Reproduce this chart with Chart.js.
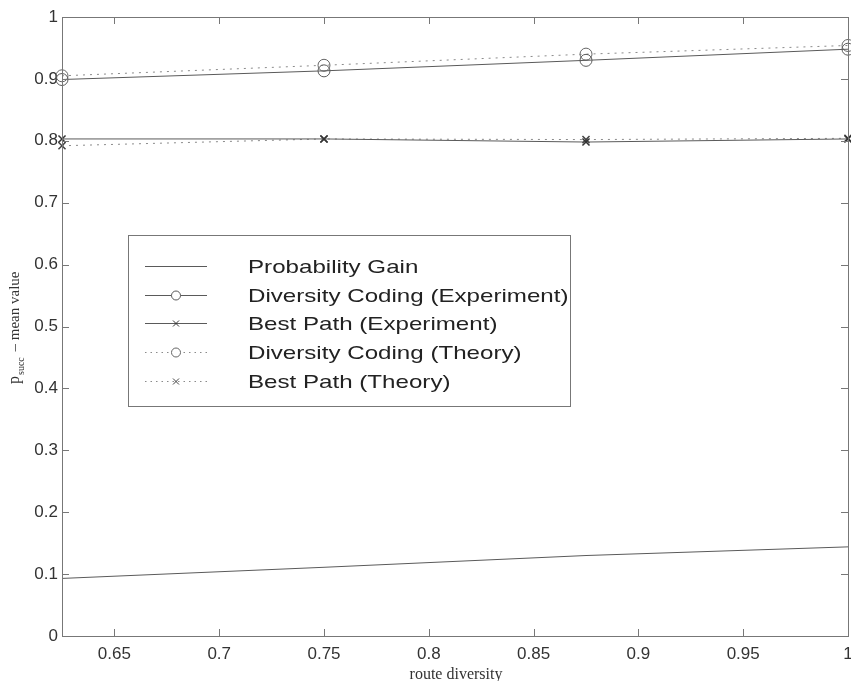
<!DOCTYPE html>
<html>
<head>
<meta charset="utf-8">
<script src="https://cdn.jsdelivr.net/npm/chart.js@4.4.1/dist/chart.umd.min.js"></script>
<style>
  html, body { margin: 0; padding: 0; background: #fff; }
  #wrap { width: 851px; height: 681px; position: relative; }
</style>
</head>
<body>
<div id="wrap"><canvas id="chart"></canvas></div>
<script>
const routeDiversity = [0.625, 0.75, 0.875, 1];
const probabilityGain = [0.093, 0.111, 0.130, 0.144];
const dcExperiment = [0.899, 0.913, 0.930, 0.948];
const bpExperiment = [0.803, 0.803, 0.798, 0.803];
const dcTheory = [0.905, 0.922, 0.940, 0.954];
const bpTheory = [0.792, 0.803, 0.802, 0.804];
const xTicks = [0.65, 0.7, 0.75, 0.8, 0.85, 0.9, 0.95, 1];

const toPoints = (ys) => ys.map((y, i) => ({ x: routeDiversity[i], y: y }));

const solid = "#5a5a5a";
const dotted = "#8a8a8a";

// legend box, ticks inside the frame, axis titles
const figurePlugin = {
    id: "figure",
    afterDraw(chart) {
        const ctx = chart.ctx;
        const a = chart.chartArea;
        const xs = chart.scales.x;
        const ys = chart.scales.y;
        ctx.save();

        // frame
        ctx.strokeStyle = "#777";
        ctx.lineWidth = 1;
        ctx.strokeRect(a.left + 0.5, a.top + 0.5, a.right - a.left, a.bottom - a.top);

        // inward ticks
        ctx.beginPath();
        xTicks.forEach((v) => {
            const px = Math.round(xs.getPixelForValue(v)) + 0.5;
            ctx.moveTo(px, a.bottom); ctx.lineTo(px, a.bottom - 7);
            ctx.moveTo(px, a.top); ctx.lineTo(px, a.top + 7);
        });
        for (let v = 0; v <= 1.0001; v += 0.1) {
            const py = Math.round(ys.getPixelForValue(v)) + 0.5;
            ctx.moveTo(a.left, py); ctx.lineTo(a.left + 7, py);
            ctx.moveTo(a.right, py); ctx.lineTo(a.right - 7, py);
        }
        ctx.stroke();

        // y title
        ctx.fillStyle = "#333";
        ctx.translate(19, 384);
        ctx.rotate(-Math.PI / 2);
        ctx.textBaseline = "alphabetic";
        ctx.textAlign = "left";
        ctx.font = "16px 'Liberation Serif'";
        ctx.fillText("p", 0, 0);
        let w = ctx.measureText("p").width;
        ctx.font = "10px 'Liberation Serif'";
        ctx.fillText("succ", w + 1, 5);
        w += ctx.measureText("succ").width + 3;
        ctx.font = "15px 'Liberation Serif'";
        ctx.fillText(" \u2013 mean value", w, 0);
        ctx.setTransform(1, 0, 0, 1, 0, 0);

        // x title
        ctx.font = "16px 'Liberation Serif'";
        ctx.textAlign = "center";
        ctx.fillText("route diversity", 456, 679);

        // legend
        const box = { x: 128, y: 235, w: 442, h: 171 };
        ctx.fillStyle = "#fff";
        ctx.fillRect(box.x, box.y, box.w, box.h);
        ctx.strokeStyle = "#777";
        ctx.strokeRect(box.x + 0.5, box.y + 0.5, box.w, box.h);
        ctx.font = "19px 'Liberation Sans'";
        ctx.textAlign = "left";
        ctx.textBaseline = "middle";
        chart.data.datasets.forEach((ds, i) => {
            const y = Math.round(box.y + 31 + i * 28.7) + 0.5;
            ctx.strokeStyle = ds.borderColor;
            ctx.lineWidth = 1;
            ctx.setLineDash(ds.borderDash ? [1.5, 4] : []);
            ctx.beginPath();
            ctx.moveTo(145, y); ctx.lineTo(207, y);
            ctx.stroke();
            ctx.setLineDash([]);
            ctx.strokeStyle = ds.pointBorderColor || ds.borderColor;
            if (ds.pointStyle === "circle") {
                ctx.beginPath();
                ctx.arc(176, y, 4.5, 0, Math.PI * 2);
                ctx.fillStyle = "#fff";
                ctx.fill();
                ctx.stroke();
            } else if (ds.pointStyle === "crossRot") {
                const r = 3;
                ctx.beginPath();
                ctx.moveTo(176 - r, y - r); ctx.lineTo(176 + r, y + r);
                ctx.moveTo(176 - r, y + r); ctx.lineTo(176 + r, y - r);
                ctx.stroke();
            }
            ctx.fillStyle = "#222";
            ctx.save();
            ctx.translate(248, y + 1);
            ctx.scale(1.27, 1);
            ctx.fillText(ds.label, 0, 0);
            ctx.restore();
        });
        ctx.restore();
    }
};

new Chart(document.getElementById("chart"), {
    type: "line",
    data: {
        datasets: [
            {
                label: "Probability Gain",
                data: toPoints(probabilityGain),
                borderColor: solid,
                borderWidth: 1,
                pointRadius: 0,
            },
            {
                label: "Diversity Coding (Experiment)",
                data: toPoints(dcExperiment),
                borderColor: solid,
                borderWidth: 1,
                pointStyle: "circle",
                pointRadius: 6,
                pointBackgroundColor: "rgba(0,0,0,0)",
                pointBorderColor: solid,
            },
            {
                label: "Best Path (Experiment)",
                data: toPoints(bpExperiment),
                borderColor: solid,
                borderWidth: 1,
                pointStyle: "crossRot",
                pointRadius: 5,
                pointBorderColor: "#333",
                pointBorderWidth: 1.5,
            },
            {
                label: "Diversity Coding (Theory)",
                data: toPoints(dcTheory),
                borderColor: dotted,
                borderWidth: 1,
                borderDash: [2, 5],
                pointStyle: "circle",
                pointRadius: 6,
                pointBackgroundColor: "rgba(0,0,0,0)",
                pointBorderColor: "#666",
            },
            {
                label: "Best Path (Theory)",
                data: toPoints(bpTheory),
                borderColor: dotted,
                borderWidth: 1,
                borderDash: [2, 5],
                pointStyle: "crossRot",
                pointRadius: 5,
                pointBorderColor: "#444",
                pointBorderWidth: 1.5,
            },
        ],
    },
    options: {
        responsive: true,
        maintainAspectRatio: false,
        animation: false,
        clip: false,
        layout: { autoPadding: false, padding: { top: 17, right: 3, left: 0, bottom: 0 } },
        plugins: {
            legend: { display: false },
            tooltip: { enabled: false },
        },
        elements: { line: { tension: 0 } },
        scales: {
            x: {
                type: "linear",
                min: 0.625,
                max: 1,
                afterBuildTicks: (scale) => {
                    scale.ticks = xTicks.map((v) => ({ value: v }));
                },
                afterFit: (scale) => {
                    scale.height = 45;
                    scale.paddingRight = 0;
                    scale.paddingLeft = 0;
                },
                grid: { display: false, drawTicks: false },
                border: { display: false },
                ticks: {
                    color: "#333",
                    font: { family: "'Liberation Sans'", size: 17 },
                    padding: 8,
                    maxRotation: 0,
                    callback: (v) => String(v),
                },
            },
            y: {
                min: 0,
                max: 1,
                afterFit: (scale) => { scale.width = 62; },
                grid: { display: false, drawTicks: false },
                border: { display: false },
                ticks: {
                    stepSize: 0.1,
                    color: "#333",
                    font: { family: "'Liberation Sans'", size: 17 },
                    padding: 4,
                    callback: (v) => String(Math.round(v * 10) / 10),
                },
            },
        },
    },
    plugins: [figurePlugin],
});
</script>
</body>
</html>
